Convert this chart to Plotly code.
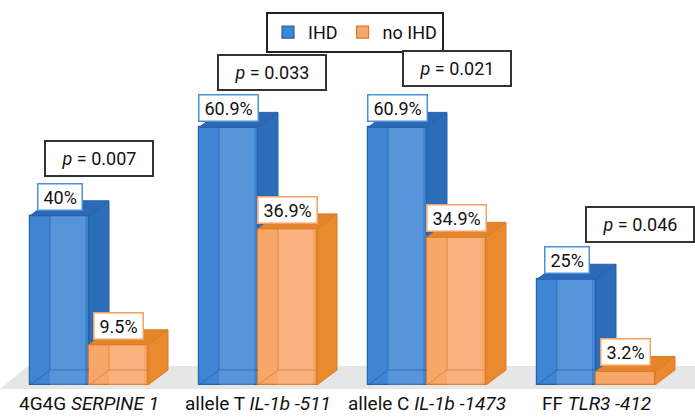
import plotly.graph_objects as go

# ---------------- data ----------------
categories = ["4G4G <i>SERPINE 1</i>", "allele T <i>IL-1b -511</i>",
              "allele C <i>IL-1b -1473</i>", "FF <i>TLR3 -412</i>"]
ihd = [40.0, 60.9, 60.9, 25.0]
no_ihd = [9.5, 36.9, 34.9, 3.2]
p_values = ["0.007", "0.033", "0.021", "0.046"]
series_names = ["IHD", "no IHD"]

# ---------------- style ----------------
W, H = 695, 418
PX_X = 169.0            # pixels per category unit
PX_Y = 4.23             # pixels per percent
X0_PX = 89.0            # pixel of category 0 centre
Y0_PX = 385.0           # pixel of 0 %
xr_range = [-X0_PX / PX_X, (W - X0_PX) / PX_X]
yr_range = [-(H - Y0_PX) / PX_Y, Y0_PX / PX_Y]
bw = 59.0 / PX_X        # bar width (x units)
dx = 20.0 / PX_X        # depth offset x
dy = 15.0 / PX_Y        # depth offset y

FONT = "Roboto, 'Noto Sans', Arial, sans-serif"
blue = dict(front="#3f85d4", line="#2462aa", side="#2c6db8", top="#2d69b8",
            glass="rgba(30,80,150,0.55)", label="#4a90d9")
orange = dict(front="#f8a76b", line="#e07a24", side="#ea8a2f", top="#e4852c",
              glass="rgba(215,110,30,0.6)", label="#f6a064")

xs = list(range(len(categories)))
x_ihd = [i - bw / 2 for i in xs]
x_no = [i + bw / 2 for i in xs]

fig = go.Figure()

fig.add_trace(go.Bar(x=x_ihd, y=ihd, width=bw, name=series_names[0],
                     marker=dict(color=blue["front"], line=dict(color=blue["line"], width=1.2)),
                     hoverinfo="skip"))
fig.add_trace(go.Bar(x=x_no, y=no_ihd, width=bw, name=series_names[1],
                     marker=dict(color=orange["front"], line=dict(color=orange["line"], width=1.2)),
                     hoverinfo="skip"))


def poly_trace(polys, fill, line, lw=1.0):
    px, py = [], []
    for pts in polys:
        for (a, b) in pts:
            px.append(a)
            py.append(b)
        px.append(pts[0][0])
        py.append(pts[0][1])
        px.append(None)
        py.append(None)
    return go.Scatter(x=px, y=py, mode="lines", fill="toself", fillcolor=fill,
                      line=dict(color=line, width=lw), showlegend=False, hoverinfo="skip")


def line_trace(segs, color, lw=1.0):
    px, py = [], []
    for seg in segs:
        for (a, b) in seg:
            px.append(a)
            py.append(b)
        px.append(None)
        py.append(None)
    return go.Scatter(x=px, y=py, mode="lines", line=dict(color=color, width=lw),
                      showlegend=False, hoverinfo="skip")


# front highlight + glass inner edges
for centers, vals, col in [(x_ihd, ihd, blue), (x_no, no_ihd, orange)]:
    hl, glass = [], []
    for c, v in zip(centers, vals):
        xl, xr = c - bw / 2, c + bw / 2
        if v > dy * 1.5:
            hl.append([(xl + dx, 0), (xr - 4 / PX_X, 0), (xr - 4 / PX_X, v), (xl + dx, v)])
            glass.append([(xl, 0), (xl + dx, dy)])
            glass.append([(xl + dx, v), (xl + dx, dy), (xr, dy)])
    if hl:
        fig.add_trace(poly_trace(hl, "rgba(255,255,255,0.13)", "rgba(0,0,0,0)", 0))
    if glass:
        fig.add_trace(line_trace(glass, col["glass"], 1.0))

# blue top and side (side clipped where hidden by the orange box)
tops_b, sides_b = [], []
for c, vb, vo in zip(x_ihd, ihd, no_ihd):
    xl, xr = c - bw / 2, c + bw / 2
    tops_b.append([(xl, vb), (xr, vb), (xr + dx, vb + dy), (xl + dx, vb + dy)])
    sides_b.append([(xr, vo), (xr, vb), (xr + dx, vb + dy), (xr + dx, vo + dy)])
fig.add_trace(poly_trace(sides_b, blue["side"], blue["line"]))
fig.add_trace(poly_trace(tops_b, blue["top"], blue["line"]))

# orange top and side
tops_o, sides_o = [], []
for c, vo in zip(x_no, no_ihd):
    xl, xr = c - bw / 2, c + bw / 2
    tops_o.append([(xl, vo), (xr, vo), (xr + dx, vo + dy), (xl + dx, vo + dy)])
    sides_o.append([(xr, 0), (xr, vo), (xr + dx, vo + dy), (xr + dx, dy)])
fig.add_trace(poly_trace(sides_o, orange["side"], orange["line"]))
fig.add_trace(poly_trace(tops_o, orange["top"], orange["line"]))

annotations = []
# value labels
for centers, vals, col in [(x_ihd, ihd, blue), (x_no, no_ihd, orange)]:
    for c, v in zip(centers, vals):
        txt = f"{v:g}%" if v != int(v) else f"{int(v)}%"
        annotations.append(dict(x=c, y=v, xref="x", yref="y", text=txt, showarrow=False,
                                xanchor="center", yanchor="bottom", yshift=5,
                                font=dict(family=FONT, size=18, color="#111"),
                                bgcolor="white", bordercolor=col["label"], borderwidth=1.5,
                                borderpad=5, height=15))

# p-value boxes
p_xoff = [0.06, 0.08, 0.18, 0.26]
p_yshift = [57, 55, 59, 55]
for i, (pv, v) in enumerate(zip(p_values, ihd)):
    annotations.append(dict(x=xs[i] + p_xoff[i], y=v, xref="x", yref="y",
                            text=f"<i>p</i> = {pv}", showarrow=False,
                            xanchor="center", yanchor="middle", yshift=p_yshift[i],
                            font=dict(family=FONT, size=18, color="#111"),
                            bgcolor="white", bordercolor="#333", borderwidth=2,
                            borderpad=0, width=106, height=33))

# category labels
for i, cat in enumerate(categories):
    annotations.append(dict(x=xs[i], y=0, xref="x", yref="paper", text=cat,
                            showarrow=False, xanchor="center", yanchor="bottom", yshift=1,
                            font=dict(family=FONT, size=19, color="#111")))

floor = dict(type="path", xref="paper", yref="paper", layer="below",
             path=f"M 0 {1 - 389 / H} L {28 / W} {1 - 366 / H} L 1 {1 - 366 / H} L 1 {1 - 389 / H} Z",
             fillcolor="#e6e6e6", line=dict(width=0))

fig.update_layout(
    width=W, height=H, margin=dict(l=0, r=0, t=0, b=0),
    paper_bgcolor="white", plot_bgcolor="white",
    barmode="overlay", bargap=0,
    xaxis=dict(range=xr_range, visible=False, fixedrange=True),
    yaxis=dict(range=yr_range, visible=False, fixedrange=True),
    shapes=[floor], annotations=annotations,
    showlegend=True,
    legend=dict(orientation="h", x=355 / W, xanchor="center", y=1 - 12 / H, yanchor="top",
                bgcolor="white", bordercolor="#222", borderwidth=2,
                font=dict(family=FONT, size=18, color="#111"),
                itemwidth=30, tracegroupgap=0),
)

fig.write_html("out.html", config={"displayModeBar": False},
               post_script="document.body.style.margin='0';document.body.style.overflow='hidden';")
